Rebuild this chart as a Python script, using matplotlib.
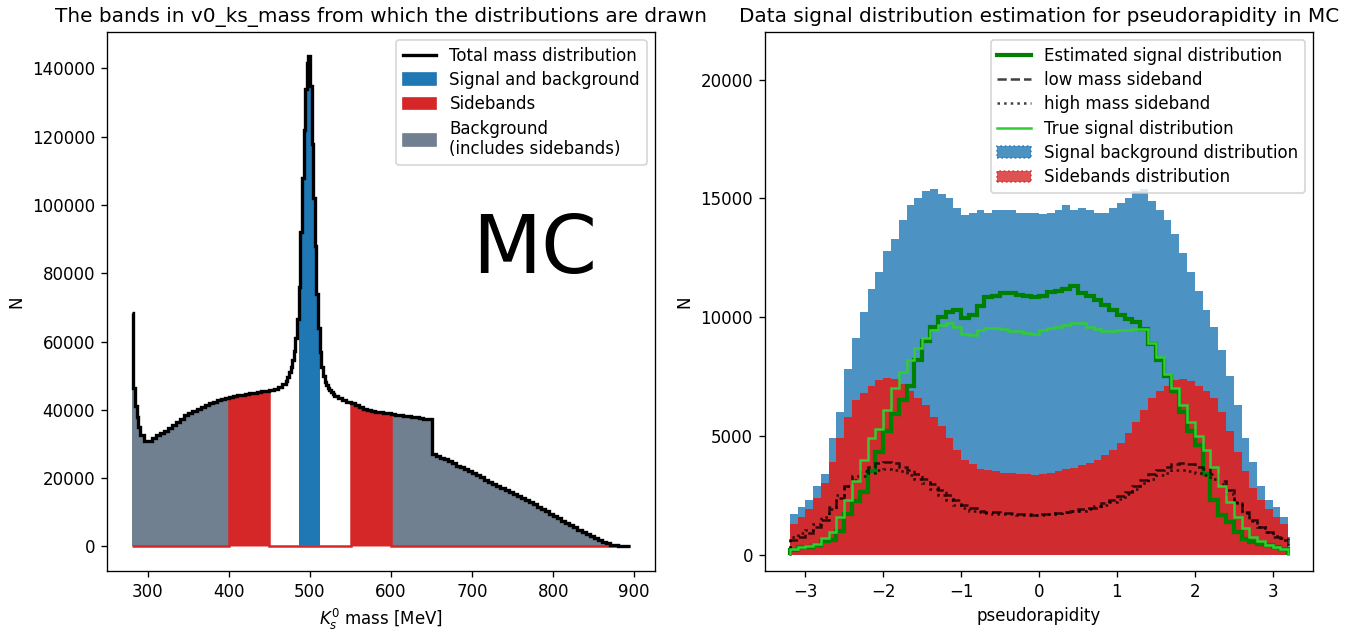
import numpy as np
import matplotlib
matplotlib.use("Agg")
import matplotlib.pyplot as plt
from matplotlib.lines import Line2D
from matplotlib.patches import Patch

# K0s candidate invariant mass histogram (finer bins around the peak), counts in thousands
mass_edges = np.concatenate([np.arange(280, 290, 2), np.arange(290, 470, 5),
                             np.arange(470, 530, 2), np.arange(530, 900, 5)])
mass_counts = np.array([
    68.3, 46.5, 41.0, 38.0, 35.0,
    32.5, 30.9, 31.0, 31.8, 32.5, 33.2, 33.9, 34.8, 35.6, 36.4,
    37.4, 38.4, 39.2, 39.8, 40.4, 40.9, 41.4, 41.9, 42.3, 42.8,
    43.2, 43.5, 43.8, 44.1, 44.3, 44.5, 44.7, 44.9, 45.0, 45.2,
    45.4, 45.6, 45.8, 46.2, 46.8, 47.6,
    48.6, 49.6, 51.0, 52.6, 54.6, 57.2, 61.0, 66.5, 76.0, 92.0,
    108.0, 122.0, 134.0, 141.5, 143.6, 135.0, 118.0, 102.0, 88.0, 74.0,
    64.0, 57.0, 52.5, 50.0, 48.3, 47.2, 46.4, 45.7, 45.1, 44.6,
    44.2, 43.6, 43.0, 42.4, 41.9, 41.3, 40.7, 40.2, 39.9, 39.6,
    39.4, 39.3, 39.1, 39.0, 38.8, 38.6, 38.5, 38.3, 38.1, 38.0,
    37.8, 37.6, 37.4, 37.2, 27.0, 26.5, 26.0, 25.5, 24.9, 24.3,
    23.7, 23.2, 22.6, 22.0, 21.4, 20.8, 20.2, 19.6, 19.0, 18.4,
    17.8, 17.2, 16.6, 16.0, 15.4, 14.8, 14.2, 13.6, 13.0, 12.3,
    11.6, 10.9, 10.3, 9.6, 9.0, 8.3, 7.6, 7.0, 6.3, 5.6,
    4.9, 4.3, 3.6, 3.0, 2.4, 1.8, 1.3, 0.9, 0.5, 0.3,
    0.15, 0.06, 0.02,
]) * 1000

signal_band = (486, 512)
low_band = (400, 450)
high_band = (550, 600)
peak_window = (450, 550)

# pseudorapidity histograms, counts in thousands
eta_edges = np.linspace(-3.2, 3.2, 65)
sigbg_counts = np.array([
    1.7, 2.0, 2.3, 2.9, 3.4, 4.9, 6.0, 7.8, 9.1, 10.2,
    11.2, 11.9, 12.8, 13.3, 14.1, 14.7, 15.0, 15.3, 15.4, 15.2,
    15.0, 14.6, 14.3, 14.4, 14.5, 14.4, 14.5, 14.5, 14.5, 14.4,
    14.4, 14.4, 14.35, 14.4, 14.5, 14.7, 14.5, 14.6, 14.5, 14.4,
    14.4, 14.6, 14.8, 15.0, 15.3, 15.4, 14.9, 14.5, 14.1, 13.5,
    12.7, 11.9, 11.1, 10.3, 9.6, 8.6, 7.5, 6.3, 4.9, 3.9,
    2.9, 2.3, 2.0, 1.6,
]) * 1000
sideband_counts = np.array([
    1.3, 1.6, 1.9, 2.4, 3.0, 3.9, 4.9, 5.8, 6.5, 6.8,
    7.1, 7.35, 7.45, 7.4, 7.2, 6.9, 6.6, 6.3, 5.8, 5.4,
    4.9, 4.4, 4.0, 3.8, 3.6, 3.55, 3.5, 3.45, 3.45, 3.4,
    3.4, 3.35, 3.4, 3.45, 3.5, 3.6, 3.65, 3.75, 3.85, 4.0,
    4.2, 4.4, 4.7, 5.1, 5.6, 6.1, 6.6, 6.9, 7.1, 7.35,
    7.4, 7.3, 7.1, 6.9, 6.6, 6.0, 5.2, 4.3, 3.5, 2.8,
    2.3, 1.9, 1.6, 1.3,
]) * 1000
low_counts = np.array([
    0.6, 0.75, 0.9, 1.15, 1.45, 1.9, 2.4, 2.9, 3.3, 3.5,
    3.7, 3.85, 3.9, 3.85, 3.7, 3.55, 3.4, 3.2, 2.95, 2.7,
    2.5, 2.3, 2.1, 1.95, 1.85, 1.8, 1.78, 1.75, 1.73, 1.72,
    1.7, 1.68, 1.7, 1.72, 1.75, 1.8, 1.85, 1.9, 1.95, 2.05,
    2.15, 2.3, 2.45, 2.65, 2.9, 3.15, 3.4, 3.55, 3.7, 3.8,
    3.85, 3.8, 3.7, 3.6, 3.4, 3.1, 2.7, 2.2, 1.8, 1.45,
    1.15, 0.95, 0.75, 0.6,
]) * 1000
high_counts = np.array([
    0.75, 0.9, 1.05, 1.3, 1.6, 2.0, 2.5, 2.9, 3.15, 3.3,
    3.45, 3.55, 3.6, 3.55, 3.5, 3.35, 3.2, 3.0, 2.75, 2.5,
    2.3, 2.1, 1.95, 1.85, 1.78, 1.73, 1.72, 1.7, 1.7, 1.68,
    1.68, 1.67, 1.68, 1.7, 1.73, 1.78, 1.82, 1.85, 1.9, 1.98,
    2.1, 2.2, 2.35, 2.55, 2.75, 3.0, 3.2, 3.35, 3.45, 3.55,
    3.55, 3.5, 3.45, 3.35, 3.2, 2.95, 2.55, 2.15, 1.75, 1.4,
    1.15, 0.95, 0.8, 0.7,
]) * 1000
estimated_counts = np.array([
    0.2, 0.3, 0.33, 0.38, 0.55, 0.62, 1.0, 1.7, 2.25, 2.65,
    3.5, 4.3, 5.2, 5.9, 6.5, 7.1, 8.2, 9.0, 9.6, 10.0,
    10.2, 10.3, 9.95, 10.1, 10.45, 10.85, 10.9, 11.0, 11.0, 10.95,
    10.9, 10.85, 10.9, 11.05, 11.1, 11.2, 11.3, 11.0, 10.9, 10.7,
    10.5, 10.3, 10.1, 9.9, 9.8, 9.5, 8.85, 8.2, 7.5, 6.9,
    6.0, 5.2, 4.6, 3.4, 2.3, 1.65, 1.35, 0.95, 0.65, 0.53,
    0.45, 0.38, 0.33, 0.25,
]) * 1000
true_counts = np.array([
    0.22, 0.3, 0.35, 0.45, 0.68, 0.95, 1.6, 2.3, 3.1, 4.0,
    4.9, 5.3, 6.1, 7.0, 7.7, 8.2, 8.7, 9.1, 9.45, 9.65,
    9.75, 9.6, 9.3, 9.25, 9.45, 9.55, 9.55, 9.5, 9.4, 9.4,
    9.35, 9.3, 9.45, 9.55, 9.6, 9.65, 9.75, 9.75, 9.6, 9.5,
    9.4, 9.4, 9.45, 9.45, 9.5, 9.5, 8.9, 8.3, 7.6, 7.0,
    6.3, 5.6, 5.0, 4.4, 3.7, 2.9, 2.2, 1.6, 1.1, 0.75,
    0.55, 0.42, 0.33, 0.25,
]) * 1000

fig = plt.figure(figsize=(1351 / 120, 633 / 120), dpi=120)
ax1, ax2 = fig.subplots(1, 2)
fig.subplots_adjust(left=0.079, right=0.972, bottom=0.098, top=0.950, wspace=0.20)

# ---- left: mass bands ----
centers = 0.5 * (mass_edges[:-1] + mass_edges[1:])


def inside(band):
    return (centers > band[0]) & (centers < band[1])


background = np.where(~inside(peak_window), mass_counts, 0)
sidebands = np.where(inside(low_band) | inside(high_band), mass_counts, 0)
signal = np.where(inside(signal_band), mass_counts, 0)

ax1.stairs(background, mass_edges, fill=True, facecolor="slategray", lw=0)
ax1.stairs(sidebands, mass_edges, fill=True, facecolor="tab:red",
           edgecolor="tab:red", lw=1.5)
ax1.stairs(signal, mass_edges, fill=True, facecolor="tab:blue", lw=0)
ax1.stairs(mass_counts, mass_edges, baseline=None, color="k", lw=2)

pad = 0.05 * (mass_edges[-1] - mass_edges[0])
ax1.set_xlim(mass_edges[0] - pad, mass_edges[-1] + pad)
ax1.set_ylim(-0.05 * mass_counts.max(), 1.05 * mass_counts.max())
ax1.text(700, 80000, "MC", fontsize=48)
ax1.set_title("The bands in v0_ks_mass from which the distributions are drawn", fontsize=12)
ax1.set_xlabel("$K_s^0$ mass [MeV]")
ax1.set_ylabel("N")
ax1.legend(handles=[Line2D([], [], color="k", lw=2),
                    Patch(color="tab:blue"), Patch(color="tab:red"),
                    Patch(color="slategray")],
           labels=["Total mass distribution", "Signal and background", "Sidebands",
                   "Background\n(includes sidebands)"],
           loc="upper right", labelspacing=0.38)

# ---- right: pseudorapidity ----
ax2.stairs(sigbg_counts, eta_edges, fill=True, color="tab:blue", alpha=0.8, ls=":", lw=1)
for _ in range(2):
    ax2.stairs(sideband_counts, eta_edges, fill=True, color="tab:red", alpha=0.8,
               ls=":", lw=1)
ax2.stairs(estimated_counts, eta_edges, color="green", lw=2.5, zorder=3)
ax2.stairs(low_counts, eta_edges, color="k", ls="--", lw=1.5, alpha=0.75, zorder=3)
ax2.stairs(high_counts, eta_edges, color="k", ls=":", lw=1.5, alpha=0.75, zorder=3)
ax2.stairs(true_counts, eta_edges, color="limegreen", lw=1.5, zorder=3)

pad = 0.05 * (eta_edges[-1] - eta_edges[0])
ax2.set_xlim(eta_edges[0] - pad, eta_edges[-1] + pad)
ax2.set_ylim(-0.045 * sigbg_counts.max(), 1.43 * sigbg_counts.max())
ax2.set_title("Data signal distribution estimation for pseudorapidity in MC", fontsize=12)
ax2.set_xlabel("pseudorapidity")
ax2.set_ylabel("N")
ax2.legend(handles=[Line2D([], [], color="green", lw=2.5),
                    Line2D([], [], color="k", ls="--", lw=1.5, alpha=0.75),
                    Line2D([], [], color="k", ls=":", lw=1.5, alpha=0.75),
                    Line2D([], [], color="limegreen", lw=1.5),
                    Patch(color="tab:blue", alpha=0.8, ls=":", lw=1),
                    Patch(color="tab:red", alpha=0.8, ls=":", lw=1)],
           labels=["Estimated signal distribution", "low mass sideband",
                   "high mass sideband", "True signal distribution",
                   "Signal background distribution", "Sidebands distribution"],
           loc="upper right", labelspacing=0.38)

fig.savefig("out.png", dpi=120)
